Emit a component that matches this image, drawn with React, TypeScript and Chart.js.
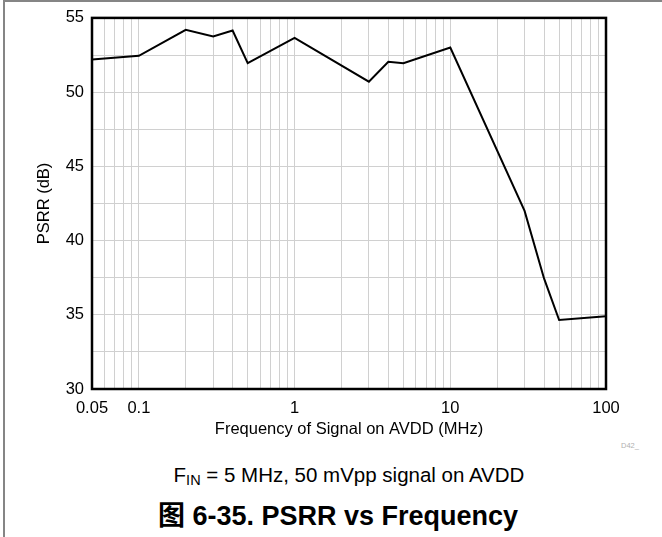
import React, { useEffect, useRef } from "react";
import { Chart, registerables } from "chart.js";

Chart.register(...registerables);

// ---- data ----
const freqMHz = [0.05, 0.1, 0.2, 0.3, 0.4, 0.5, 1, 3, 4, 5, 10, 30, 40, 50, 100];
const psrrDb = [52.2, 52.45, 54.2, 53.75, 54.15, 51.95, 53.65, 50.7, 52.05, 51.95, 53.0, 42.0, 37.45, 34.65, 34.9];

const xGridValues = [
  0.05, 0.06, 0.07, 0.08, 0.09,
  0.1, 0.2, 0.3, 0.4, 0.5, 0.6, 0.7, 0.8, 0.9,
  1, 2, 3, 4, 5, 6, 7, 8, 9,
  10, 20, 30, 40, 50, 60, 70, 80, 90,
  100,
];
const xTickLabels = [0.05, 0.1, 1, 10, 100];
const yMin = 30;
const yMax = 55;
const yGridStep = 2.5;
const yLabelStep = 5;

const xTitle = "Frequency of Signal on AVDD (MHz)";
const yTitle = "PSRR (dB)";
const FONT = "'Liberation Sans', Arial, Helvetica, sans-serif";

const frameBorder = {
  id: "frameBorder",
  afterDraw(chart: any) {
    const { ctx, chartArea } = chart;
    ctx.save();
    ctx.strokeStyle = "#000";
    ctx.lineWidth = 2.5;
    ctx.strokeRect(chartArea.left, chartArea.top, chartArea.right - chartArea.left, chartArea.bottom - chartArea.top);
    ctx.restore();
  },
};

export default function App() {
  const ref = useRef<HTMLCanvasElement | null>(null);

  useEffect(() => {
    if (!ref.current) return;
    Chart.defaults.font.family = FONT;
    const chart = new Chart(ref.current, {
      type: "line",
      data: {
        datasets: [
          {
            data: freqMHz.map((f, i) => ({ x: f, y: psrrDb[i] })),
            borderColor: "#000",
            borderWidth: 2,
            pointRadius: 0,
            tension: 0,
            fill: false,
          },
        ],
      },
      options: {
        animation: false,
        responsive: false,
        layout: { padding: { top: 17, right: 56, left: 0, bottom: 0 } },
        plugins: { legend: { display: false }, tooltip: { enabled: false } },
        scales: {
          x: {
            type: "logarithmic",
            min: 0.05,
            max: 100,
            afterBuildTicks: (scale: any) => {
              scale.ticks = xGridValues.map((v) => ({ value: v }));
            },
            afterFit: (scale: any) => {
              scale.height = 51;
            },
            ticks: {
              autoSkip: false,
              maxRotation: 0,
              padding: 10,
              color: "#000",
              font: { size: 16.5, family: FONT },
              callback: (value: any) => {
                const v = Number(value);
                const hit = xTickLabels.find((t) => Math.abs(t - v) < 1e-9);
                return hit !== undefined ? String(hit) : "";
              },
            },
            grid: { color: "#d0d0d0", lineWidth: 1, drawTicks: false },
            border: { display: false },
            title: {
              display: true,
              text: xTitle,
              color: "#000",
              font: { size: 16.5, family: FONT },
              padding: { top: 0, bottom: 1 },
            },
          },
          y: {
            type: "linear",
            min: yMin,
            max: yMax,
            afterFit: (scale: any) => {
              scale.width = 92;
            },
            ticks: {
              stepSize: yGridStep,
              padding: 8,
              color: "#000",
              font: { size: 16.5, family: FONT },
              callback: (value: any) => {
                const v = Number(value);
                return Math.abs(v / yLabelStep - Math.round(v / yLabelStep)) < 1e-9 ? String(v) : "";
              },
            },
            grid: { color: "#d0d0d0", lineWidth: 1, drawTicks: false },
            border: { display: false },
            title: {
              display: true,
              text: yTitle,
              color: "#000",
              font: { size: 16.5, family: FONT },
              padding: { top: 35, bottom: 0 },
            },
          },
        },
      },
      plugins: [frameBorder],
    });
    return () => chart.destroy();
  }, []);

  return (
    <div
      style={{
        position: "fixed",
        left: 0,
        top: 0,
        width: 662,
        height: 537,
        background: "#fff",
        overflow: "hidden",
        fontFamily: FONT,
      }}
    >
      <div
        style={{
          position: "absolute",
          left: 3,
          top: 0,
          width: 659,
          height: 537,
          borderTop: "2px solid #858585",
          borderLeft: "2px solid #858585",
          boxSizing: "border-box",
        }}
      />
      <canvas ref={ref} width={662} height={440} style={{ position: "absolute", left: 0, top: 0, width: 662, height: 440 }} />
      <div
        style={{
          position: "absolute",
          left: 621,
          top: 441,
          fontSize: 7.5,
          lineHeight: "10px",
          color: "#b0b0b0",
          whiteSpace: "nowrap",
        }}
      >
        D42_
      </div>
      <div
        style={{
          position: "absolute",
          left: 149,
          width: 400,
          top: 463,
          textAlign: "center",
          fontSize: 20.5,
          lineHeight: "24px",
          color: "#000",
          whiteSpace: "nowrap",
        }}
      >
        F<span style={{ fontSize: 14.5, position: "relative", top: 3 }}>IN</span> = 5 MHz, 50 mVpp signal on AVDD
      </div>
      <div
        style={{
          position: "absolute",
          left: 88,
          width: 500,
          top: 501,
          textAlign: "center",
          fontSize: 27,
          fontWeight: "bold",
          lineHeight: "30px",
          color: "#000",
          whiteSpace: "nowrap",
          fontFamily: "'Liberation Sans', Arial, 'Noto Sans CJK SC', sans-serif",
        }}
      >
        图 6-35. PSRR vs Frequency
      </div>
    </div>
  );
}
